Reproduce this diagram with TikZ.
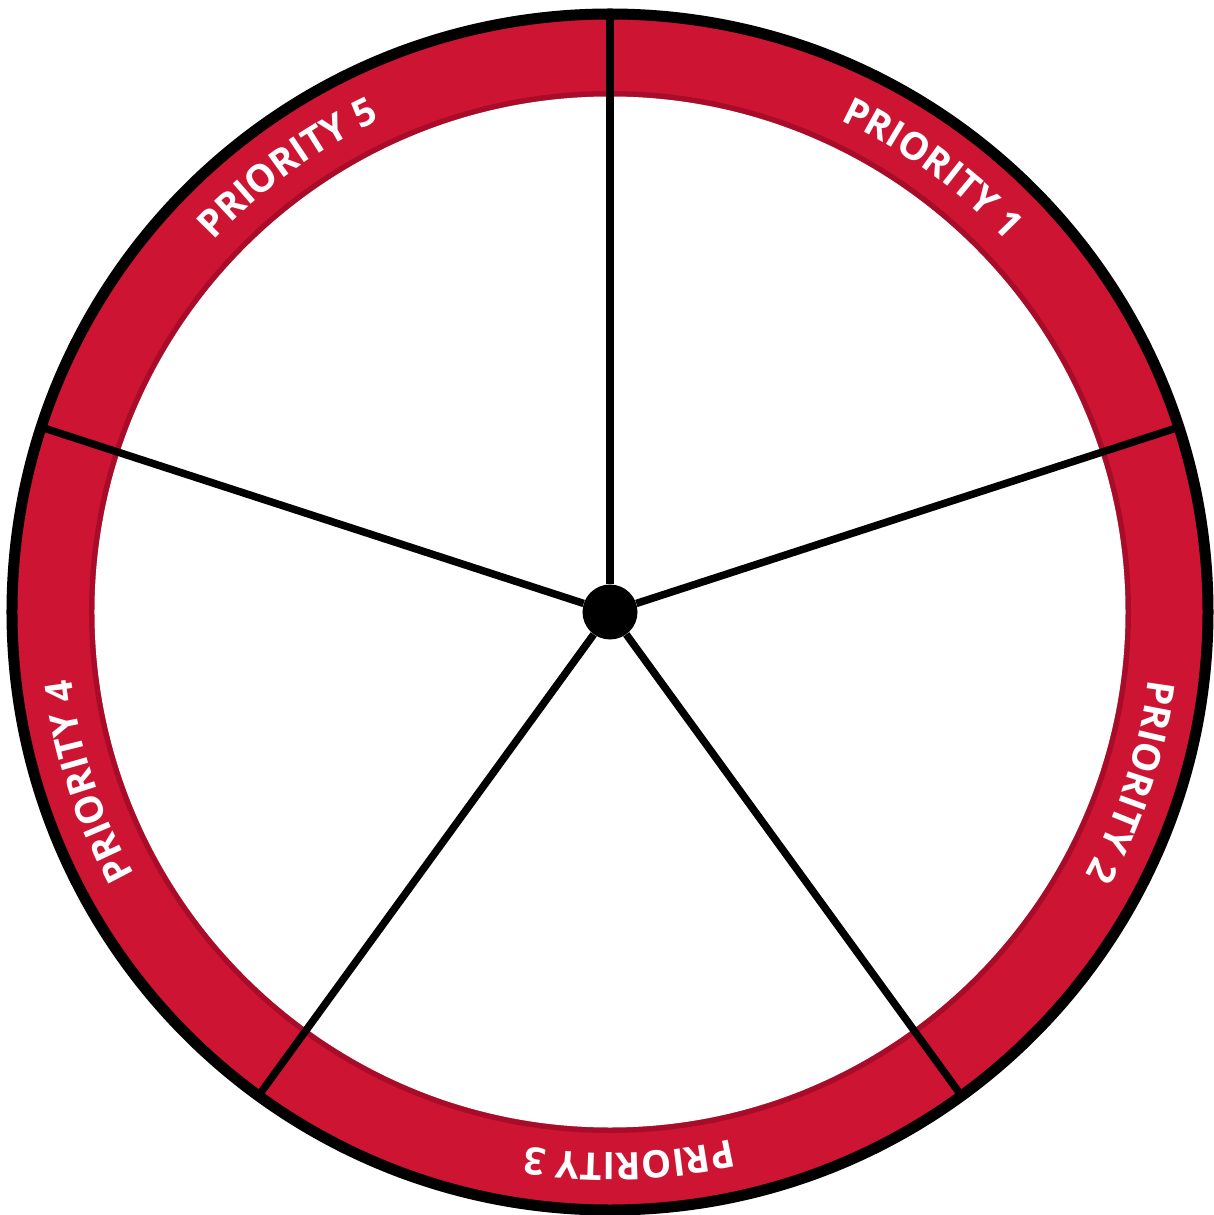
\documentclass[tikz,border=0pt]{standalone}
\usepackage{fontspec}
\setmainfont{Open Sans}
\usepackage{tikz}
\usetikzlibrary{decorations.text}
\definecolor{wheelred}{RGB}{205,21,51}
\definecolor{wheeldark}{RGB}{168,12,40}
\newcommand{\ringfont}{\fontsize{38}{42}\selectfont\bfseries}

\begin{document}
\begin{tikzpicture}[x=1pt, y=1pt,
  spoke/.style={line width=7.5pt, black},
  rim/.style={line width=11pt, black},
  hub/.style={circle, fill=black, inner sep=0pt, minimum size=55pt},
  ringtext/.style={decorate, decoration={text along path, text align=center,
    text color=white, text={|\ringfont|#1}}},
]
\useasboundingbox (-610,-603) rectangle (603,612);

% red ring with darker inner edge
\fill[wheelred] (0,0) circle[radius=598];
\fill[wheeldark] (0,0) circle[radius=521];
\fill[white] (0,0) circle[radius=515.5];

% labels, clockwise round the ring
\path[ringtext=PRIORITY 1] (94:543) arc[start angle=94, end angle=14, radius=543];
\path[ringtext=PRIORITY 2] (22:543) arc[start angle=22, end angle=-58, radius=543];
\path[ringtext=PRIORITY 3] (-48:541) arc[start angle=-48, end angle=-128, radius=541];
\path[ringtext=PRIORITY 4] (-122:543) arc[start angle=-122, end angle=-202, radius=543];
\path[ringtext=PRIORITY 5] (166:543) arc[start angle=166, end angle=86, radius=543];

\node[hub] (hub) at (0,0) {};
\coordinate (rimA) at (90:598);
\coordinate (rimB) at (18:598);
\coordinate (rimC) at (-54:598);
\coordinate (rimD) at (-126:598);
\coordinate (rimE) at (162:598);

\draw[spoke] (hub) -- (rimA);
\draw[spoke] (hub) -- (rimB);
\draw[spoke] (hub) -- (rimC);
\draw[spoke] (hub) -- (rimD);
\draw[spoke] (hub) -- (rimE);

\draw[rim] (0,0) circle[radius=598];
\end{tikzpicture}
\end{document}
